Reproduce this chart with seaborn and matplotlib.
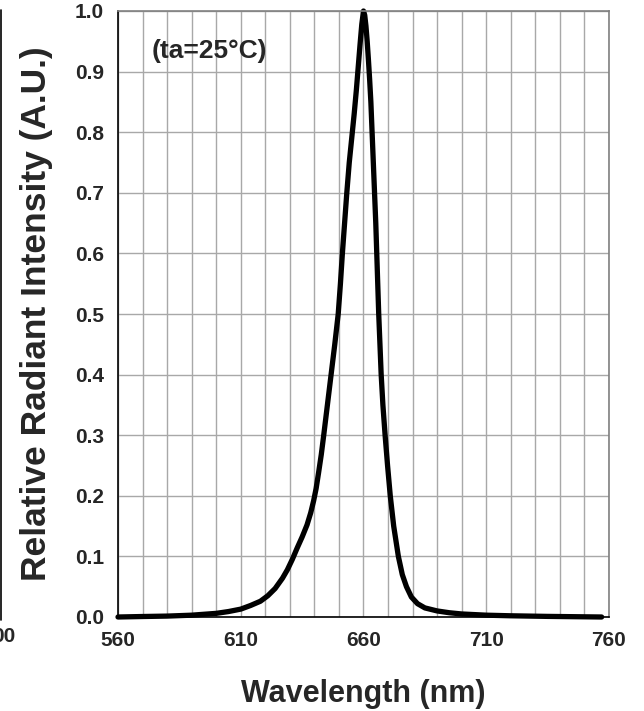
import numpy as np
import pandas as pd
import matplotlib
matplotlib.use("Agg")
import matplotlib.pyplot as plt
import seaborn as sns

sns.set_style("white")
plt.rcParams['font.family'] = ['Liberation Sans', 'DejaVu Sans']
plt.rcParams['font.weight'] = 'bold'

wavelength = [560, 570, 580, 590, 600, 605, 610, 614, 618, 621, 624, 627, 629, 631,
              633, 635, 637, 638.5, 639.7, 640.7, 641.7, 642.8, 643.8, 645.3, 646.8,
              648.3, 649.7, 650.6, 651.4, 652.3, 653.2, 654.2, 655.2, 656.2, 657.1,
              657.9, 658.6, 659.3, 660, 660.5, 661, 661.5, 662, 662.5, 663, 663.5, 664,
              664.5, 665, 665.4, 665.8, 666.2, 666.7, 667.2, 667.9, 668.8, 669.8, 670.9,
              672.3, 674.2, 675.8, 677.5, 679.5, 682, 685, 690, 695, 700, 710, 720, 735,
              757]
intensity = [0.0, 0.0008, 0.0015, 0.003, 0.006, 0.009, 0.013, 0.019, 0.026, 0.035,
             0.047, 0.064, 0.078, 0.095, 0.114, 0.132, 0.152, 0.172, 0.192, 0.212,
             0.238, 0.268, 0.3, 0.35, 0.4, 0.45, 0.5, 0.55, 0.6, 0.65, 0.7, 0.75, 0.79,
             0.83, 0.87, 0.91, 0.945, 0.978, 1.0, 0.993, 0.975, 0.95, 0.92, 0.887,
             0.85, 0.8, 0.75, 0.7, 0.65, 0.6, 0.55, 0.5, 0.45, 0.4, 0.35, 0.3, 0.25,
             0.2, 0.15, 0.1, 0.07, 0.05, 0.033, 0.022, 0.015, 0.01, 0.007, 0.005,
             0.003, 0.002, 0.001, 0.0]
x_ticks = [560, 610, 660, 710, 760]
y_ticks = [0.0, 0.1, 0.2, 0.3, 0.4, 0.5, 0.6, 0.7, 0.8, 0.9, 1.0]

df = pd.DataFrame({"wl": wavelength, "ri": intensity})

fig = plt.figure(figsize=(6.44, 7.11), dpi=100)
ax = fig.add_axes([118/644, 1 - 617/711, (609-118)/644, (617-11)/711])

ax.set_xticks(np.arange(560, 761, 10), minor=True)
ax.set_yticks(y_ticks)
ax.set_xticks(x_ticks)
ax.grid(True, which='both', color='#a8a8a8', lw=1.0)
ax.set_axisbelow(True)

sns.lineplot(data=df, x="wl", y="ri", ax=ax, color='black', lw=3.8,
             solid_capstyle='round', solid_joinstyle='round')
for ln in ax.lines:
    ln.set_clip_on(False)

ax.set_xlim(560, 760)
ax.set_ylim(0, 1.0)
ax.set_xticklabels([str(t) for t in x_ticks], fontsize=15, fontweight='bold')
ax.set_yticklabels([f"{t:.1f}" for t in y_ticks], fontsize=15, fontweight='bold')
ax.tick_params(which='both', length=0, pad=10)
ax.set_xlabel("Wavelength (nm)", fontsize=22, fontweight='bold', labelpad=21)
ax.set_ylabel("Relative Radiant Intensity (A.U.)", fontsize=25.5, fontweight='bold', labelpad=16)

for s in ['top', 'right']:
    ax.spines[s].set_color('#808080')
    ax.spines[s].set_linewidth(1.2)
for s in ['left', 'bottom']:
    ax.spines[s].set_color('black')
    ax.spines[s].set_linewidth(1.2)

ax.text((152 - 118) / 491, (617 - 51) / 606, "(ta=25°C)", transform=ax.transAxes,
        fontsize=19, fontweight='bold', va='center', ha='left')

# fragment of neighbouring chart at the far left edge
fig.add_artist(plt.Line2D([1/644, 1/644], [1-620/711, 1-10/711], color='black', lw=1.2))
fig.text(-0.012, 1 - 637/711, "00", fontsize=15, fontweight='bold', va='center', ha='left')

fig.savefig("out.png", dpi=100)
